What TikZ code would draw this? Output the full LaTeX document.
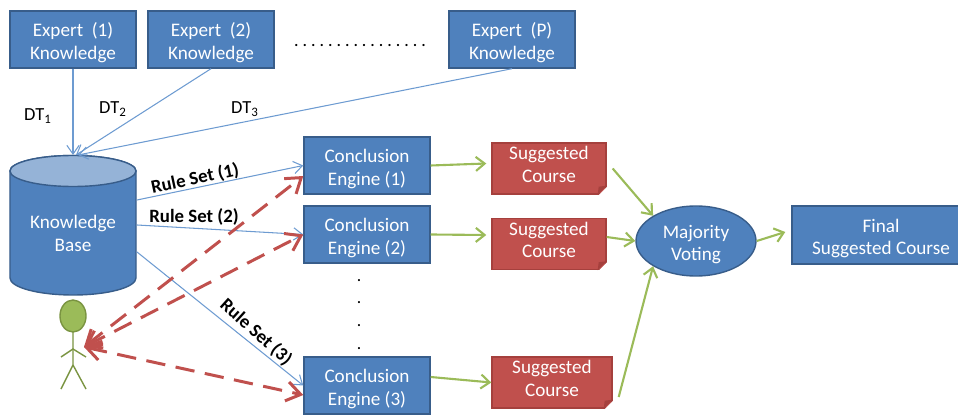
\documentclass[tikz,border=0pt]{standalone}
\usepackage{fontspec}
\setmainfont{Carlito}
\usetikzlibrary{shapes.geometric,arrows.meta}
\definecolor{boxblue}{HTML}{4F81BD}
\definecolor{edgeblue}{HTML}{385D8A}
\definecolor{lineblue}{HTML}{6D9BD1}
\definecolor{topblue}{HTML}{95B3D7}
\definecolor{boxred}{HTML}{C0504D}
\definecolor{edgered}{HTML}{A5403D}
\definecolor{leafgreen}{HTML}{9BBB59}
\definecolor{edgegreen}{HTML}{7A9441}
\newcommand{\lowline}{\rule{0pt}{11.5pt}}
\tikzset{
 whitetext/.style={text=white, align=center, font=\fontsize{10.9}{13}\selectfont},
 bluebox/.style={whitetext, draw=edgeblue, fill=boxblue, thick, minimum width=2.52cm, minimum height=1.14cm, inner sep=0pt},
 redbox/.style={whitetext, execute at end node={\rule[-4.8pt]{0pt}{4.8pt}}, draw=edgered, fill=boxred, thick, minimum width=2.28cm, minimum height=1.02cm, inner sep=0pt},
 thinline/.style={lineblue, line width=0.6pt, -{Straight Barb[length=5pt,width=7pt]}},
 redline/.style={boxred, line width=1.7pt, dash pattern=on 11pt off 6pt, {Straight Barb[length=8pt,width=11pt]}-{Straight Barb[length=8pt,width=11pt]}},
 greenline/.style={leafgreen, line width=1.2pt, -{Straight Barb[length=5pt,width=8pt]}},
 blacklabel/.style={font=\fontsize{10.5}{12}\selectfont},
 rulelabel/.style={font=\fontsize{10.7}{12}\selectfont\bfseries}
}
\begin{document}
\begin{tikzpicture}
\useasboundingbox (0,0) rectangle (19.16,8.28);
% experts
\node [bluebox] (exp1) at (1.46,7.49) {\lowline Expert~~(1)\\Knowledge};
\node [bluebox] (exp2) at (4.22,7.49) {\lowline Expert~~(2)\\Knowledge};
\node [bluebox] (expP) at (10.24,7.49) {\lowline Expert~~(P)\\Knowledge};
\node [font=\fontsize{8.5}{10}\selectfont\bfseries] (expdots) at (7.2,7.36) {. . . . . . . . . . . . . . . .};
% knowledge base
\draw [edgeblue, thick, fill=boxblue] (0.2,4.86) -- (0.2,2.72) arc (180:360:1.26 and 0.34) -- (2.72,4.86) arc (0:180:1.26 and 0.31) -- cycle;
\draw [edgeblue, thick, fill=topblue] (1.46,4.86) ellipse (1.26 and 0.31);
\node [whitetext] (kb) at (1.46,3.61) {Knowledge\\Base};
\coordinate (kbtop) at (1.46,5.18);
\coordinate (kb1) at (2.74,4.28);
\coordinate (kb2) at (2.74,3.78);
\coordinate (kb3) at (2.74,3.24);
% engines
\node [bluebox] (con1) at (7.34,4.97) {\lowline Conclusion\\Engine (1)};
\node [bluebox] (con2) at (7.34,3.59) {\lowline Conclusion\\Engine (2)};
\node [bluebox] (con3) at (7.34,0.57) {\lowline Conclusion\\Engine (3)};
\foreach \y [count=\i] in {2.66,2.22,1.76,1.30}
 \node (vdot\i) at (7.18,\y) {.};
% suggested courses
\node [redbox] (sug1) at (10.98,4.91) {Suggested\\Course};
\node [redbox] (sug2) at (10.98,3.40) {Suggested\\Course};
\node [redbox, minimum width=2.4cm] (sug3) at (11.04,0.63) {Suggested\\Course};
\foreach \n in {sug1,sug2,sug3}{
 \fill [white] ([shift={(-0.18,-0.03)}]\n.south east) -- ([shift={(0.03,-0.03)}]\n.south east) -- ([shift={(0.03,0.18)}]\n.south east) -- cycle;
 \fill [edgered] ([xshift=-0.18cm]\n.south east) -- ([yshift=0.18cm]\n.south east) -- ([shift={(-0.16,0.16)}]\n.south east) -- cycle;
}
% voting and result
\node [whitetext, ellipse, draw=edgeblue, thick, fill=boxblue, minimum width=2.4cm, minimum height=1.4cm, inner sep=0pt] (maj) at (13.92,3.46) {\lowline Majority\\Voting};
\node [bluebox, minimum width=3.56cm, minimum height=1.16cm] (fin) at (17.62,3.58) {\lowline Final\\Suggested Course};
% person
\draw [edgegreen, fill=leafgreen, thick] (1.46,1.96) ellipse (0.26 and 0.32);
\coordinate (neck) at (1.46,1.3);
\coordinate (hip) at (1.46,0.98);
\coordinate (hand) at (1.68,1.34);
\draw [edgegreen, thick] (1.46,1.64) -- (hip) -- (1.22,0.5);
\draw [edgegreen, thick] (hip) -- (1.72,0.5);
\draw [edgegreen, thick] (1.22,1.14) -- (neck) -- (1.72,1.14);
% links
\draw [thinline] (exp1.south) -- (kbtop);
\draw [thinline] (exp2.south) -- ([xshift=0.06cm]kbtop);
\draw [thinline] (expP.south) -- ([xshift=0.1cm]kbtop);
\draw [thinline] (kb1) -- (con1.west);
\draw [thinline] (kb2) -- (con2.west);
\draw [thinline] (kb3) -- (con3.west);
\draw [redline] (hand) -- ([yshift=-0.21cm]con1.west);
\draw [redline] (hand) -- (con2.west);
\draw [redline] (hand) -- ([yshift=-0.19cm]con3.west);
\draw [greenline] (con1.east) -- ([shift={(-0.1,0.1)}]sug1.west);
\draw [greenline] (con2.east) -- ([shift={(-0.1,0.18)}]sug2.west);
\draw [greenline] ([yshift=0.17cm]con3.east) -- (sug3.west);
\draw [greenline] ([xshift=0.12cm]sug1.east) -- (maj.north west);
\draw [greenline] ([yshift=0.14cm]sug2.east) -- (maj.west);
\draw [greenline] ([shift={(0.12,-0.29)}]sug3.east) -- (maj.south west);
\draw [greenline] (maj.east) -- ([shift={(-0.12,0.06)}]fin.west);
% labels
\node [blacklabel] (dt1) at (0.76,5.96) {DT\textsubscript{1}};
\node [blacklabel] (dt2) at (2.26,6.1) {DT\textsubscript{2}};
\node [blacklabel] (dt3) at (4.9,6.1) {DT\textsubscript{3}};
\node [rulelabel, rotate=12] (rule1) at (3.9,4.7) {Rule Set (1)};
\node [rulelabel] (rule2) at (3.88,3.94) {Rule Set (2)};
\node [rulelabel, rotate=-42] (rule3) at (5.12,1.64) {Rule Set (3)};
\end{tikzpicture}
\end{document}
